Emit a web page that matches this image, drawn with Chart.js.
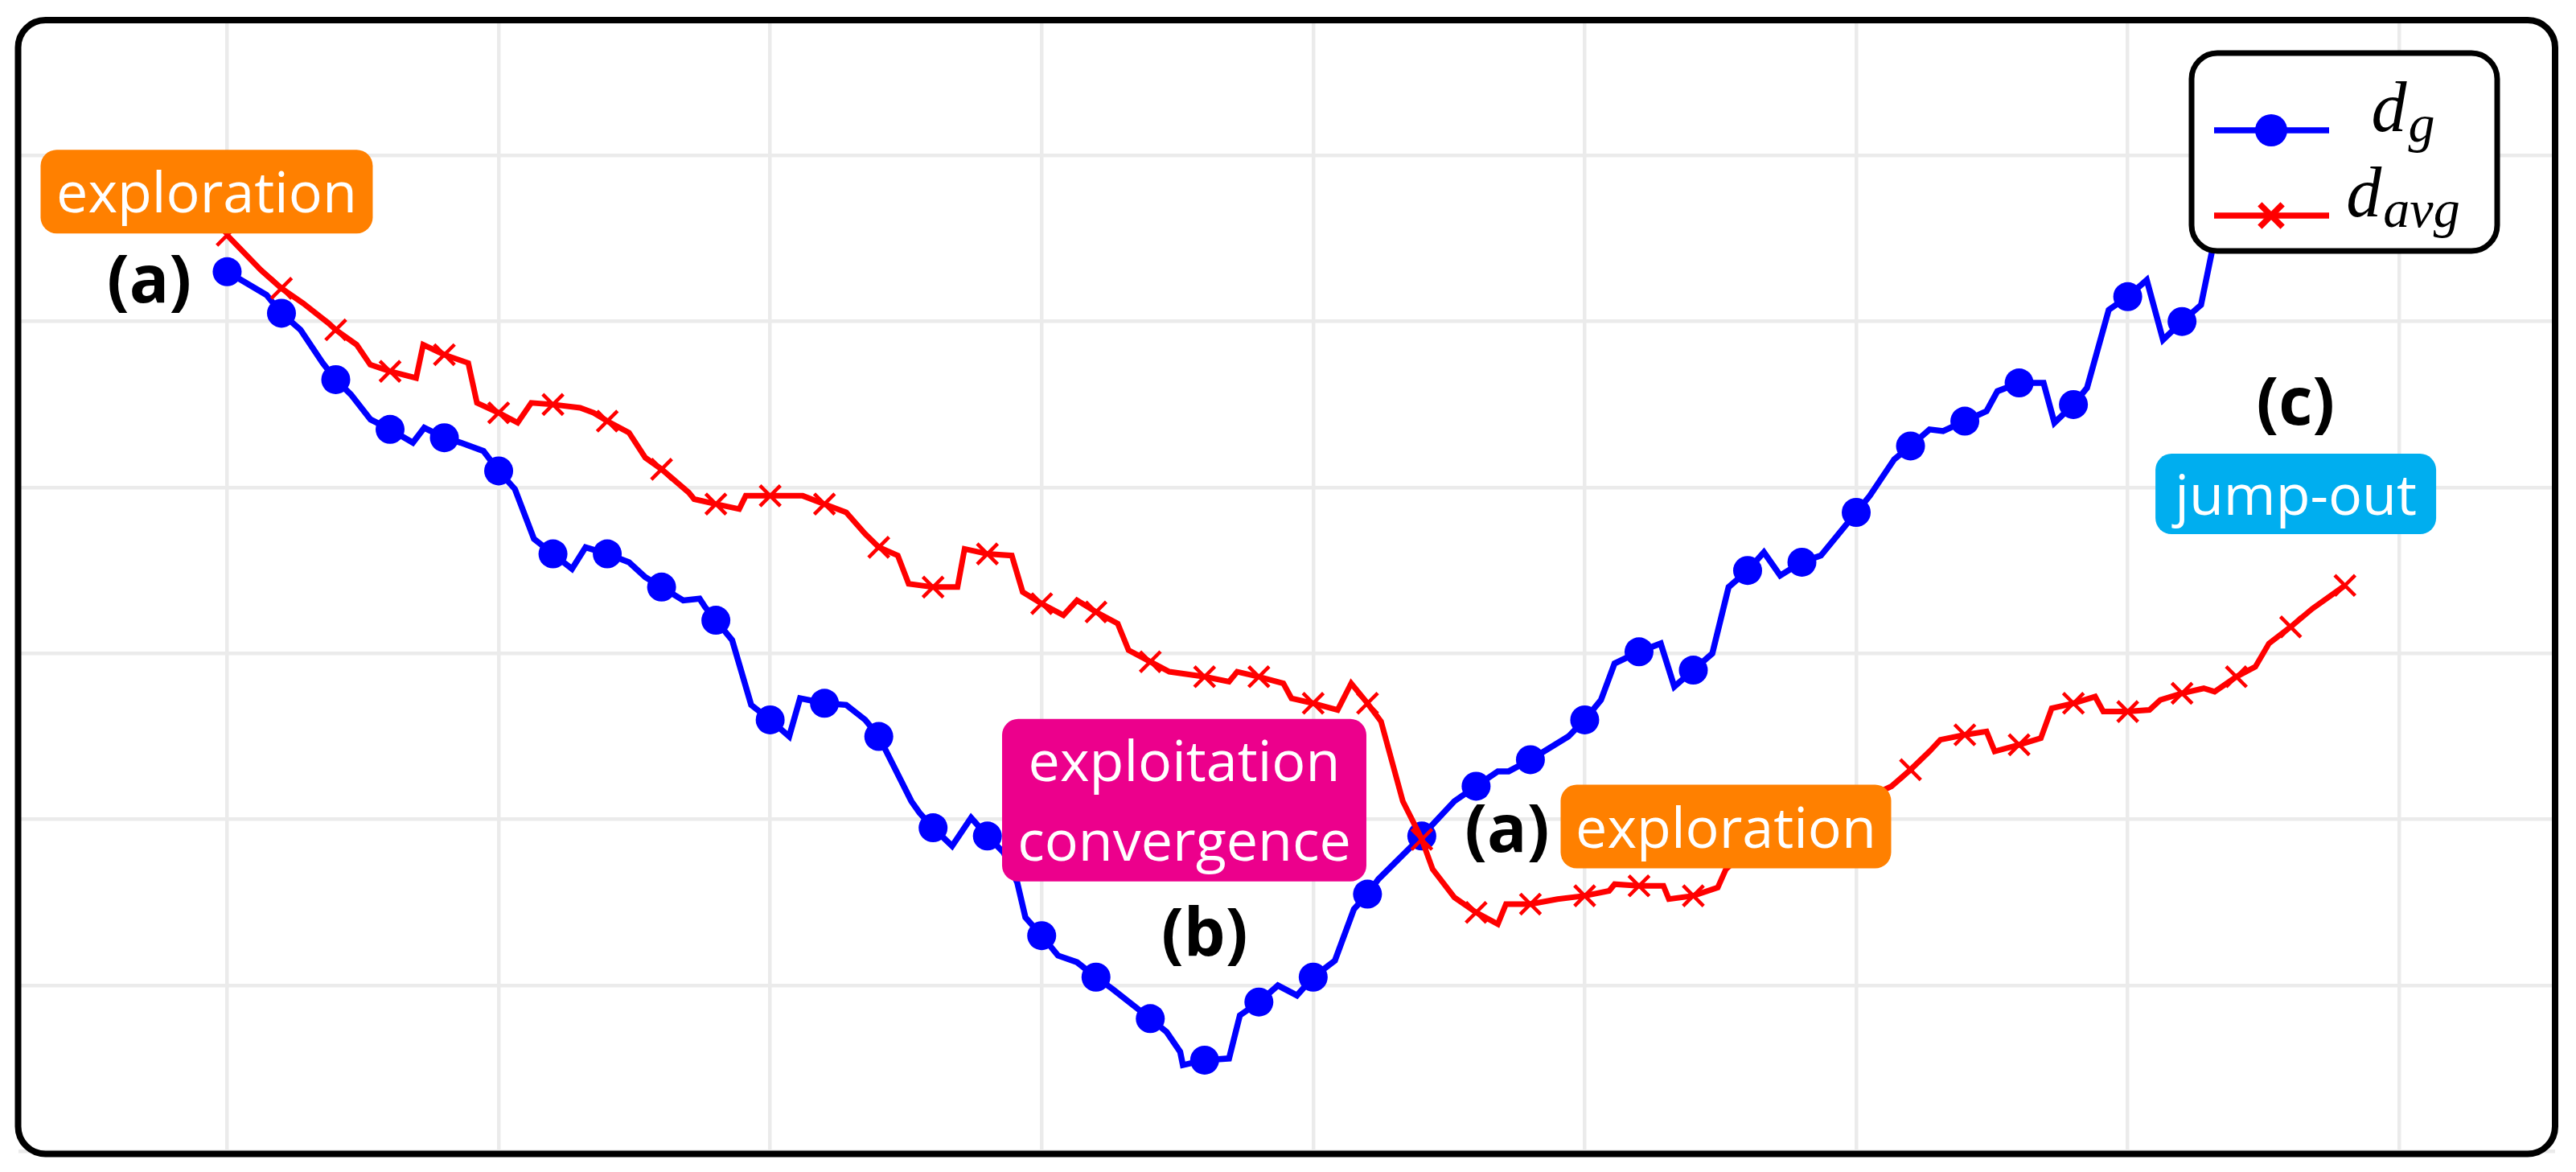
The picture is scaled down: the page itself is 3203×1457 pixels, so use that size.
<!DOCTYPE html>
<html>
<head>
<meta charset="utf-8">
<script src="https://cdn.jsdelivr.net/npm/chart.js@4.4.1/dist/chart.umd.min.js"></script>
<style>
  html, body { margin: 0; padding: 0; background: #fff; }
  canvas { display: block; }
</style>
</head>
<body>
<canvas id="chart" width="3203" height="1457"></canvas>
<script>
// values are in grid units (no tick labels in the original figure)
const gX = [0, 0.145, 0.2, 0.27, 0.352, 0.4, 0.456, 0.528, 0.6, 0.684, 0.726, 0.8, 0.86, 0.944,
  1.0, 1.06, 1.13, 1.2, 1.27, 1.32, 1.4, 1.48, 1.54, 1.6, 1.68, 1.74, 1.76, 1.8, 1.86, 1.93,
  2.0, 2.07, 2.11, 2.2, 2.28, 2.35, 2.4, 2.52, 2.55, 2.6, 2.67, 2.74, 2.8, 2.86, 2.91, 2.94,
  3.0, 3.06, 3.13, 3.2, 3.26, 3.4, 3.46, 3.51, 3.52, 3.6, 3.69, 3.73, 3.8, 3.87, 3.94,
  4.0, 4.08, 4.15, 4.2, 4.24, 4.4, 4.52, 4.6, 4.68, 4.72, 4.8, 4.94,
  5.0, 5.06, 5.11, 5.2, 5.28, 5.33, 5.4, 5.47, 5.53, 5.6, 5.66, 5.72, 5.8, 5.87, 5.95,
  6.0, 6.05, 6.14, 6.2, 6.27, 6.32, 6.4, 6.48, 6.52, 6.6, 6.69, 6.73, 6.8, 6.85, 6.93,
  7.0, 7.07, 7.13, 7.2, 7.27, 7.31, 7.4];
const gY = [5.30, 5.16, 5.05, 4.95, 4.75, 4.65, 4.56, 4.41, 4.35, 4.27, 4.36, 4.30, 4.27, 4.22,
  4.10, 3.99, 3.69, 3.60, 3.51, 3.64, 3.60, 3.55, 3.46, 3.40, 3.32, 3.33, 3.28, 3.20, 3.08, 2.69,
  2.60, 2.50, 2.73, 2.70, 2.69, 2.60, 2.50, 2.11, 2.04, 1.95, 1.84, 2.01, 1.90, 1.80, 1.62, 1.41,
  1.30, 1.18, 1.14, 1.05, 0.98, 0.80, 0.72, 0.60, 0.52, 0.55, 0.56, 0.82, 0.90, 1.00, 0.94,
  1.05, 1.15, 1.46, 1.55, 1.64, 1.90, 2.11, 2.20, 2.29, 2.29, 2.36, 2.50,
  2.60, 2.72, 2.94, 3.01, 3.06, 2.80, 2.90, 3.00, 3.40, 3.50, 3.61, 3.47, 3.55, 3.59, 3.75,
  3.85, 3.95, 4.17, 4.25, 4.35, 4.34, 4.40, 4.46, 4.58, 4.63, 4.63, 4.39, 4.50, 4.60, 5.07,
  5.15, 5.25, 4.89, 5.00, 5.10, 5.42, 5.90];

const avgX = [0, 0.124, 0.2, 0.28, 0.373, 0.4, 0.477, 0.527, 0.6, 0.696, 0.722, 0.8, 0.888, 0.92,
  1.0, 1.07, 1.12, 1.2, 1.3, 1.35, 1.4, 1.48, 1.54, 1.6, 1.7, 1.72, 1.8, 1.886, 1.91,
  2.0, 2.12, 2.2, 2.28, 2.35, 2.4, 2.47, 2.51, 2.6, 2.69, 2.716, 2.8, 2.89, 2.93,
  3.0, 3.08, 3.13, 3.2, 3.28, 3.32, 3.4, 3.47, 3.6, 3.69, 3.72, 3.8, 3.89, 3.92,
  4.0, 4.09, 4.14, 4.2, 4.25, 4.33, 4.37, 4.4, 4.44, 4.52, 4.6, 4.68, 4.71, 4.8, 4.9,
  5.0, 5.09, 5.11, 5.2, 5.29, 5.31, 5.4, 5.49, 5.52, 5.6, 5.8,
  6.0, 6.13, 6.2, 6.27, 6.31, 6.4, 6.48, 6.51, 6.6, 6.68, 6.72, 6.8, 6.88, 6.91,
  7.0, 7.08, 7.12, 7.2, 7.28, 7.32, 7.4, 7.47, 7.52, 7.6, 7.68, 7.8];
const avgY = [5.52, 5.31, 5.20, 5.11, 4.99, 4.95, 4.86, 4.74, 4.70, 4.66, 4.86, 4.80, 4.75, 4.51,
  4.45, 4.39, 4.51, 4.50, 4.48, 4.45, 4.40, 4.33, 4.18, 4.11, 3.97, 3.93, 3.90, 3.87, 3.95,
  3.95, 3.95, 3.90, 3.85, 3.72, 3.64, 3.59, 3.42, 3.40, 3.40, 3.63, 3.60, 3.59, 3.37,
  3.30, 3.23, 3.32, 3.25, 3.18, 3.02, 2.95, 2.89, 2.86, 2.83, 2.89, 2.86, 2.82, 2.73,
  2.70, 2.66, 2.82, 2.70, 2.59, 2.11, 1.98, 1.88, 1.70, 1.53, 1.44, 1.37, 1.49, 1.49, 1.52,
  1.54, 1.57, 1.61, 1.60, 1.60, 1.52, 1.54, 1.59, 1.70, 1.82, 1.95,
  2.10, 2.20, 2.30, 2.41, 2.48, 2.51, 2.53, 2.41, 2.45, 2.49, 2.67, 2.70, 2.74, 2.65,
  2.65, 2.66, 2.72, 2.76, 2.79, 2.77, 2.86, 2.92, 3.06, 3.16, 3.27, 3.41];

const xTicks = [0, 1, 2, 3, 4, 5, 6, 7, 8];
const yTicks = [0, 1, 2, 3, 4, 5, 6];
const seriesNames = [{ main: 'd', sub: 'g' }, { main: 'd', sub: 'avg' }];

const phaseBoxes = [
  { lines: ['exploration'], x: -0.0755, y: 5.783, w: 413, h: 104, color: '#FF8000' },
  { lines: ['exploitation', 'convergence'], x: 3.525, y: 2.116, w: 453, h: 202, color: '#EC008C' },
  { lines: ['exploration'], x: 5.52, y: 1.957, w: 411, h: 104, color: '#FF8000' },
  { lines: ['jump-out'], x: 7.619, y: 3.961, w: 349, h: 100, color: '#00AEEF' },
];
const phaseTags = [
  { text: '(a)', x: -0.287, y: 5.116 },
  { text: '(b)', x: 3.600, y: 1.179 },
  { text: '(a)', x: 4.714, y: 1.807 },
  { text: '(c)', x: 7.618, y: 4.377 },
];

const isMark = (v) => Math.abs(v * 5 - Math.round(v * 5)) < 1e-6;
const markRadius = (c) => (c.raw && isMark(c.raw.x) ? 18 : 0);

const bgPlugin = {
  id: 'bg',
  beforeDraw: (chart) => {
    const { ctx } = chart;
    ctx.save();
    ctx.fillStyle = '#ffffff';
    ctx.fillRect(0, 0, chart.width, chart.height);
    ctx.restore();
  },
};

const notesPlugin = {
  id: 'notes',
  afterDatasetsDraw: (chart) => {
    const { ctx, scales } = chart;
    ctx.save();
    ctx.textAlign = 'center';
    phaseBoxes.forEach((b) => {
      const cx = scales.x.getPixelForValue(b.x);
      const cy = scales.y.getPixelForValue(b.y);
      ctx.fillStyle = b.color;
      ctx.beginPath();
      ctx.roundRect(cx - b.w / 2, cy - b.h / 2, b.w, b.h, 20);
      ctx.fill();
      ctx.fillStyle = '#ffffff';
      ctx.font = '70px "Open Sans"';
      ctx.textBaseline = 'alphabetic';
      const n = b.lines.length;
      b.lines.forEach((t, i) => {
        ctx.fillText(t, cx, cy + 26 - (n - 1) * 49.5 + i * 99);
      });
    });
    ctx.fillStyle = '#000000';
    ctx.font = 'bold 82px "Open Sans"';
    phaseTags.forEach((t) => {
      ctx.fillText(t.text, scales.x.getPixelForValue(t.x), scales.y.getPixelForValue(t.y));
    });
    ctx.restore();
  },
};

const framePlugin = {
  id: 'frame',
  afterDraw: (chart) => {
    const { ctx, chartArea: a } = chart;
    ctx.save();
    ctx.lineWidth = 8;
    ctx.strokeStyle = '#000000';
    ctx.beginPath();
    ctx.roundRect(a.left, a.top, a.right - a.left, a.bottom - a.top, 34);
    ctx.stroke();

    // legend box
    const left = a.right - 452;
    const top = a.top + 41;
    ctx.fillStyle = '#ffffff';
    ctx.lineWidth = 7;
    ctx.beginPath();
    ctx.roundRect(left, top, 380, 246, 32);
    ctx.fill();
    ctx.stroke();

    const dsets = [chart.data.datasets[1], chart.data.datasets[0]];
    const rows = [96, 202];
    dsets.forEach((ds, i) => {
      const y = top + rows[i];
      ctx.strokeStyle = ds.borderColor;
      ctx.fillStyle = ds.pointBackgroundColor;
      ctx.lineWidth = 7.5;
      ctx.beginPath();
      ctx.moveTo(left + 28, y);
      ctx.lineTo(left + 171, y);
      ctx.stroke();
      Chart.helpers.drawPoint(ctx, {
        pointStyle: ds.pointStyle,
        radius: 20,
        rotation: 0,
        borderWidth: ds.pointStyle === 'circle' ? 0 : 6,
      }, left + 99, y);
      const name = seriesNames[i];
      ctx.font = 'italic 88px "Liberation Serif"';
      const wm = ctx.measureText(name.main).width;
      ctx.font = 'italic 66px "Liberation Serif"';
      const ws = ctx.measureText(name.sub).width;
      const x0 = left + 262 - (wm + ws) / 2;
      ctx.fillStyle = '#000000';
      ctx.textAlign = 'left';
      ctx.textBaseline = 'alphabetic';
      ctx.font = 'italic 88px "Liberation Serif"';
      ctx.fillText(name.main, x0, y + 1);
      ctx.font = 'italic 66px "Liberation Serif"';
      ctx.fillText(name.sub, x0 + wm + 2, y + 14);
    });
    ctx.restore();
  },
};

const gridOpts = { color: '#EBEBEB', lineWidth: 4.5, drawTicks: false };

new Chart(document.getElementById('chart'), {
  type: 'line',
  data: {
    datasets: [
      {
        label: 'd_avg',
        data: avgX.map((x, i) => ({ x, y: avgY[i] })),
        borderColor: '#FF0000',
        borderWidth: 7,
        pointStyle: 'crossRot',
        pointRadius: markRadius,
        pointBorderColor: '#FF0000',
        pointBackgroundColor: '#FF0000',
        pointBorderWidth: 4.5,
        tension: 0,
        fill: false,
        order: 0,
      },
      {
        label: 'd_g',
        data: gX.map((x, i) => ({ x, y: gY[i] })),
        borderColor: '#0000FF',
        borderWidth: 7.5,
        pointStyle: 'circle',
        pointRadius: markRadius,
        pointBorderColor: '#0000FF',
        pointBackgroundColor: '#0000FF',
        pointBorderWidth: 0,
        tension: 0,
        fill: false,
        order: 1,
      },
    ],
  },
  options: {
    responsive: false,
    animation: false,
    devicePixelRatio: 1,
    layout: { padding: { left: 21, top: 25, right: 26, bottom: 18 } },
    plugins: { legend: { display: false }, tooltip: { enabled: false } },
    scales: {
      x: {
        type: 'linear',
        min: -0.77,
        max: 8.574,
        afterBuildTicks: (axis) => { axis.ticks = xTicks.map((v) => ({ value: v })); },
        ticks: { display: false },
        grid: gridOpts,
        border: { display: false },
      },
      y: {
        type: 'linear',
        min: -0.015,
        max: 6.816,
        afterBuildTicks: (axis) => { axis.ticks = yTicks.map((v) => ({ value: v })); },
        ticks: { display: false },
        grid: gridOpts,
        border: { display: false },
      },
    },
  },
  plugins: [bgPlugin, notesPlugin, framePlugin],
});
</script>
</body>
</html>
